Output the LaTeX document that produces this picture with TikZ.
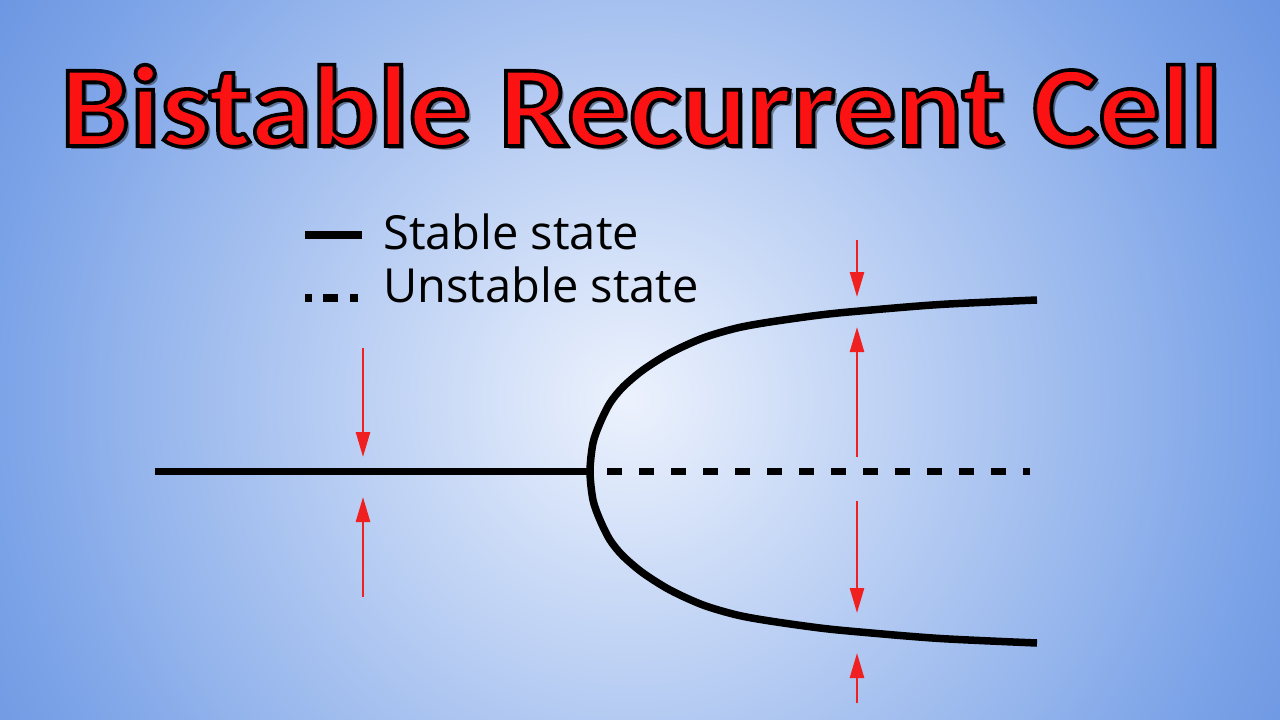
\documentclass[tikz,border=0pt]{standalone}
\usepackage{fontspec}
\setmainfont{Open Sans}
\newfontfamily\titlefont{Carlito}
\usepackage{tikz}
\usetikzlibrary{positioning}
\usetikzlibrary{arrows.meta}
\usetikzlibrary{calc}
\definecolor{bgcentre}{RGB}{236,242,253}
\definecolor{bgedge}{RGB}{122,162,231}
\definecolor{bgcorner}{RGB}{108,150,226}
\definecolor{titlered}{RGB}{252,18,18}
\definecolor{arrowred}{RGB}{240,32,32}
\pgfdeclareradialshading{bgglow}{\pgfpoint{0bp}{0bp}}{color(0bp)=(bgcentre); color(23bp)=(bgedge); color(27bp)=(bgcorner); color(50bp)=(bgcorner)}
\newcommand{\brctitle}{Bistable Recurrent Cell}
\newcommand{\rimtext}[1]{\special{pdf:literal 0 0 0 RG 3.6 w 2 Tr}#1\special{pdf:literal 0 Tr}}
\tikzstyle{state}=[line width=7.5pt]
\tikzstyle{unstable}=[state, dash pattern=on 15pt off 17pt]
\tikzstyle{push}=[draw=arrowred, line width=2.6pt, -{Triangle[length=25pt,width=14pt]}]
\tikzstyle{legendtext}=[inner sep=0pt, font=\fontsize{47}{52}\selectfont]
\tikzstyle{titletext}=[inner sep=0pt, anchor=base, font=\titlefont\bfseries\fontsize{116}{120}\selectfont]

\begin{document}
\begin{tikzpicture}[x=1pt, y=-1pt]
				
				\useasboundingbox (0,0) rectangle (1280,720);
				\begin{scope}
				\clip (0,0) rectangle (1280,720);
				\shade[shading=bgglow] (-70,-300) rectangle (1330,1100);
				\end{scope}
				
				% title with shadow and black rim
				\coordinate (titlepos) at (641,146);
				\node (titleshadow) [titletext, text=black, text opacity=0.4] at ($(titlepos)+(3.5,3.5)$) {\scalebox{1.068}[1]{\brctitle}};
				\node (title) [titletext, text=titlered] at (titlepos) {\scalebox{1.068}[1]{\rimtext{\brctitle}}};
				
				% legend
				\coordinate (sa) at (305,235);
				\coordinate (sb) at (362,235);
				\coordinate (ua) at (305,298);
				\coordinate (ub) at (358,298);
				\node (stext) [legendtext, anchor=base west] at (383,249) {Stable state};
				\node (utext) [legendtext, below=53pt of stext.base west, anchor=base west] {Unstable state};
				\draw [state] (sa) to (sb);
				\draw [state, dash pattern=on 7pt off 11pt on 15pt off 12pt on 8pt off 30pt] (ua) to (ub);
				
				% states
				\coordinate (lstart) at (155,471.5);
				\coordinate (fork) at (590,471.5);
				\coordinate (dstart) at (607,471.5);
				\coordinate (dend) at (1030,471.5);
				\draw [state] (lstart) to (fork);
				\draw [unstable] (dstart) to (dend);
				\draw [state] plot[smooth] coordinates {(1037,300) (940,304.5) (860,311) (820,315) (770,322) (737,328) (703,338) (670,353) (643,370) (623,387) (610,403) (600,423) (593,443) (fork)
				(593,500) (600,520) (610,540) (623,556) (643,573) (670,590) (703,605) (737,615) (770,621) (820,628) (860,632) (940,638.5) (1037,643)};
				
				% attraction arrows
				\foreach \x/\ya/\yb [count=\i] in {363/348/457, 363/597/497, 857/240/297, 857/457/327, 857/501/613, 857/703/653}
				{
				\coordinate (from\i) at (\x,\ya);
				\coordinate (to\i) at (\x,\yb);
				\draw [push] (from\i) to (to\i);
				}
\end{tikzpicture}
\end{document}
